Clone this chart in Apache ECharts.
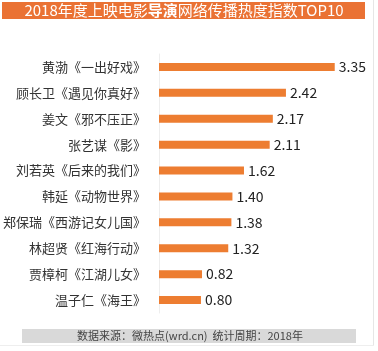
<!DOCTYPE html>
<html><head><meta charset="utf-8">
<script src="https://cdn.jsdelivr.net/npm/echarts@6/dist/echarts.min.js"></script>
<style>html,body{margin:0;padding:0;background:#fff}#c{width:378px;height:351px}</style>
</head><body><div id="c"></div>
<script>
const categories = ['黄渤《一出好戏》','顾长卫《遇见你真好》','姜文《邪不压正》','张艺谋《影》','刘若英《后来的我们》','韩延《动物世界》','郑保瑞《西游记女儿国》','林超贤《红海行动》','贾樟柯《江湖儿女》','温子仁《海王》'];
const values = [3.35, 2.42, 2.17, 2.11, 1.62, 1.40, 1.38, 1.32, 0.82, 0.80];
const titleParts = ['2018年度上映电影', '导演', '网络传播热度指数TOP10'];
const footerText = '数据来源：微热点(wrd.cn)  统计周期：2018年';
const font = '"Noto Sans CJK SC", "Noto Sans", sans-serif';
const chart = echarts.init(document.getElementById('c'));
chart.setOption({
  animation: false,
  backgroundColor: '#fff',
  grid: {left: 142, right: 35.4, top: 54, bottom: 38},
  xAxis: {type: 'value', min: 0, max: 3.5, show: false},
  yAxis: {
    type: 'category', data: categories, inverse: true,
    axisLine: {show: true, lineStyle: {color: '#eeeeee', width: 1}},
    axisTick: {show: false},
    axisLabel: {margin: 13, fontSize: 13, color: '#333', fontFamily: font}
  },
  series: [{
    type: 'bar', data: values, barWidth: 8,
    itemStyle: {color: '#ED7D31'},
    label: {show: true, position: 'right', distance: 4, fontSize: 14, color: '#222', fontFamily: font,
      formatter: p => p.value.toFixed(2)}
  }],
  graphic: [
    {type: 'rect', shape: {x: 2, y: 2, width: 363, height: 17}, style: {fill: '#EA7234'}},
    {type: 'text', x: 184, y: 10.5, style: {
      text: titleParts[0] + '{b|' + titleParts[1] + '}' + titleParts[2],
      fill: '#fff', fontSize: 15, fontFamily: font, textAlign: 'center', textVerticalAlign: 'middle',
      rich: {b: {fontWeight: 'bold', fontSize: 15, fontFamily: font, fill: '#fff'}}}},
    {type: 'rect', shape: {x: 22, y: 329, width: 334, height: 14}, style: {fill: '#D9D9D9'}},
    {type: 'text', x: 190, y: 336, style: {text: footerText, fill: '#444', font: '11px ' + font, textAlign: 'center', textVerticalAlign: 'middle'}},
    {type: 'line', shape: {x1: 373.5, y1: 0, x2: 373.5, y2: 345}, style: {stroke: '#e6e6e6', lineWidth: 1}},
    {type: 'line', shape: {x1: 0, y1: 345.5, x2: 374, y2: 345.5}, style: {stroke: '#eeeeee', lineWidth: 1}}
  ]
});
</script></body></html>
